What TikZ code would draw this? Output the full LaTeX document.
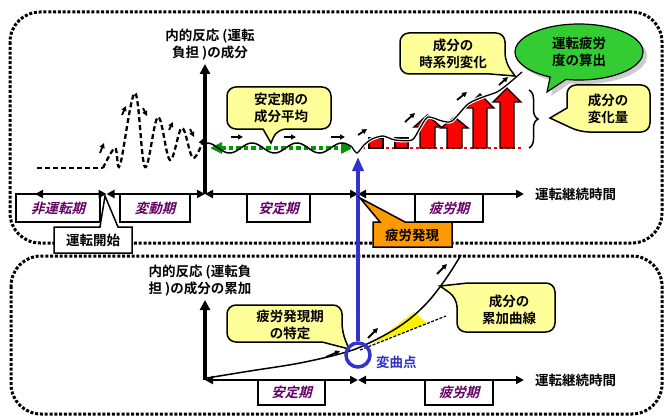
\documentclass[tikz,border=0pt]{standalone}
\usepackage{fontspec}
\newfontfamily\jpb{Noto Sans CJK JP Bold}
\newfontfamily\jpbi{Noto Sans CJK JP Bold}[FakeSlant=0.25]
\usetikzlibrary{arrows.meta,shapes.callouts,shadows,decorations.pathreplacing}
\definecolor{cyell}{RGB}{255,255,153}
\definecolor{cgreen}{RGB}{51,204,51}
\definecolor{dgreen}{RGB}{0,153,0}
\definecolor{cblue}{RGB}{51,51,204}
\definecolor{corange}{RGB}{255,153,0}
\definecolor{cpurple}{RGB}{102,0,102}
\begin{document}
\begin{tikzpicture}[x=1pt,y=-1pt,
  font=\jpb\fontsize{13.5}{17}\selectfont,
  panel/.style={line width=3pt, dash pattern=on 3pt off 1.8pt, rounded corners=30pt},
  pbox/.style={draw, line width=1.5pt, fill=white, minimum height=28pt, inner sep=0pt,
     text=cpurple, font=\jpbi\fontsize{13.5}{16}\selectfont},
  yaxis/.style={line width=3.5pt, -{Triangle[length=10pt,width=10pt]}},
  period/.style={line width=2.5pt, {Triangle[length=8pt,width=8pt]}-{Triangle[length=8pt,width=8pt]}},
  wave/.style={line width=2.3pt, dash pattern=on 5pt off 3pt},
  sarr/.style={line width=1.8pt, -{Triangle[length=5pt,width=5pt]}},
  callout/.style={draw, fill=cyell, line width=1.5pt},
  redarr/.style={draw, fill=red, line width=1.4pt},
  txt/.style={align=center, inner sep=0pt}
]
\useasboundingbox (0,0) rectangle (671,417);
% panels
\draw[panel] (10,12) rectangle (662,243);
\draw[panel] (11,256) rectangle (662,414);

% ---------- top panel ----------
\node[pbox, minimum width=84pt] (b1) at (58,208) {非運転期};
\node[pbox, minimum width=70pt] (b2) at (155,208) {変動期};
\node[pbox, minimum width=63pt] (b3) at (278.5,208) {安定期};
\node[pbox, minimum width=68pt] (b4) at (449,208) {疲労期};

\coordinate (o1) at (205,194);
\coordinate (yt1) at (205,64);
\coordinate (t0) at (35,194);
\coordinate (t1) at (106.5,194);
\coordinate (t3) at (358,194);
\coordinate (t4) at (524,194);
\draw[yaxis] (o1) -- (yt1);
\draw[period] (t0) -- (t1);
\draw[period] (t1) -- (o1);
\draw[period] (o1) -- (t3);
\draw[period] (t3) -- (t4);
\node[anchor=west, inner sep=0pt] (tl1) at (535,194) {運転継続時間};
\node[txt] (yl1) at (210,45) {内的反応 (運転\\負担 )の成分};

% non-operation / fluctuation wave
\draw[wave] (37,168) -- (103,168);
\draw[wave, -{Triangle[length=6pt,width=7pt]}] plot[smooth, tension=0.6] coordinates
  {(103,168) (115,148) (120,165) (135,93) (145,167) (158,117) (170,160) (182,128) (193,158) (204,138)};
\draw[sarr] (100,153) -- (104,143);
\draw[sarr] (122,115) -- (126,106);
\draw[sarr] (143,108) -- (147,116);
\draw[sarr] (169,130) -- (173,122);
\draw[sarr] (190,129) -- (194,137);

% stable period
\coordinate (g1) at (210,148);
\coordinate (g2) at (353,148);
\draw[dgreen, line width=4.5pt, dash pattern=on 4.5pt off 3pt,
  {Triangle[length=12pt,width=11pt]}-{Triangle[length=12pt,width=11pt]}] (g1) -- (g2);
\draw[line width=1.5pt] plot[domain=207:352, samples=90] (\x, {148-5*cos(8*(\x-207))});
\draw[sarr] (231,137) -- (243,137);
\draw[sarr] (284,137) -- (296,137);
\draw[sarr] (331,137) -- (345,137);

% fatigue period
\draw[red, line width=2.5pt, dash pattern=on 3pt off 3pt] (362,148) -- (522,148);
\draw[redarr] (369,138) rectangle (383,148);
\draw[redarr] (395,138) rectangle (408,148);
\draw[redarr] (420,148) -- (420,127) -- (414,127) -- (427.5,115) -- (441,127) -- (435,127) -- (435,148) -- cycle;
\draw[redarr] (447,148) -- (447,128) -- (441,128) -- (454.5,117) -- (468,128) -- (462,128) -- (462,148) -- cycle;
\draw[redarr] (473,148) -- (473,108) -- (466,108) -- (480,94) -- (494,108) -- (487,108) -- (487,148) -- cycle;
\draw[redarr] (500,148) -- (500,102) -- (493,102) -- (507,88) -- (521,102) -- (514,102) -- (514,148) -- cycle;
\draw[white, line width=3.5pt] plot[smooth, tension=0.45] coordinates
  {(352,147) (357,153) (364,145) (372,139) (383,136) (395,140) (412,140) (420,128) (428,117) (442,121) (452,121) (468,104) (483,97) (497,92) (508,84) (522,72)};
\draw[line width=1.3pt] plot[smooth, tension=0.45] coordinates
  {(352,147) (357,153) (364,145) (372,139) (383,136) (395,140) (412,140) (420,128) (428,117) (442,121) (452,121) (468,104) (483,97) (497,92) (508,84) (522,72)};
\draw[sarr] (358,135) -- (367,129);
\draw[sarr] (405,122) -- (415,113);
\draw[sarr] (457,100) -- (467,92);
\draw[sarr] (499,85) -- (508,77);

% brace
\coordinate (br1) at (529,90);
\coordinate (br2) at (529,148);
\draw[line width=1.5pt, decorate, decoration={brace, amplitude=9pt}] (br1) -- (br2);

% callouts (top)
\draw[callout] (279,87) [rounded corners=9pt] -- (331,87) -- (331,129) -- (277,129) [sharp corners] -- (271,143) -- (263,129) [rounded corners=9pt] -- (227,129) -- (227,87) -- cycle;
\node[txt] (c1) at (281,108) {安定期の\\成分平均};

\draw[callout] (452,33) [rounded corners=9pt] -- (505,33) -- (505,62) [sharp corners] -- (515,76) -- (490,74) [rounded corners=9pt] -- (400,74) -- (400,33) -- cycle;
\node[txt] (c2) at (453,54) {成分の\\時系列変化};

\draw[callout] (610,85) [rounded corners=9pt] -- (650,85) -- (650,132) -- (580,132) [sharp corners] -- (550,118) -- (567,108) [rounded corners=9pt] -- (567,85) -- cycle;
\node[txt] (c3) at (608,109) {成分の\\変化量};

\node[ellipse callout, draw, fill=cgreen, line width=1.2pt, minimum width=128pt, minimum height=56pt,
  callout absolute pointer={(547,92)}, drop shadow={shadow xshift=4pt, shadow yshift=-4pt, fill=gray!80},
  align=center, inner sep=0pt] (fat) at (579,52) {運転疲労\\度の算出};

% boxes on the border
\draw[fill=white, line width=1.5pt] (54,227) -- (100,227) -- (105,196) -- (118,227) -- (132,227) -- (132,253) -- (54,253) -- cycle;
\node[inner sep=0pt] (start) at (93,240) {運転開始};

% ---------- bottom panel ----------
\node[pbox, minimum width=67pt, minimum height=25pt] (b5) at (291.5,392.5) {安定期};
\node[pbox, minimum width=68pt, minimum height=25pt] (b6) at (459,392.5) {疲労期};
\coordinate (o2) at (205,380);
\coordinate (yt2) at (205,300);
\coordinate (s3) at (358,380);
\coordinate (s4) at (524,380);
\draw[yaxis] (o2) -- (yt2);
\draw[period] (o2) -- (s3);
\draw[period] (s3) -- (s4);
\node[anchor=west, inner sep=0pt] (tl2) at (535,380) {運転継続時間};
\node[txt] (yl2) at (200,281) {内的反応 (運転負\\担 )の成分の累加};

\fill[yellow] (372,344) -- (414,312) -- (427,323) -- cycle;
\draw[line width=1.2pt, dash pattern=on 3pt off 1.5pt] (360,350) -- (446,316);
\draw[line width=1.5pt] plot[smooth, tension=0.6] coordinates
  {(207,378) (250,371) (300,363) (343,353) (367,344) (400,326) (425,305) (445,280) (461,255)};
\draw[sarr] (326,357) -- (340,351);
\draw[sarr] (368,338) -- (378,328);
\draw[sarr] (437,274) -- (447,264);

\draw[callout] (280,305) [rounded corners=9pt] -- (342,305) -- (342,332) [sharp corners] -- (349,349) -- (322,342) [rounded corners=9pt] -- (227,342) -- (227,305) -- cycle;
\node[txt] (c4) at (290,325) {疲労発現期\\の特定};

\draw[callout] (505,283) [rounded corners=9pt] -- (555,283) -- (555,332) -- (457,332) -- (457,298) [sharp corners] -- (440,286) -- (468,283) [rounded corners=9pt] -- cycle;
\node[txt] (c5) at (509,310) {成分の\\累加曲線};

% inflection point and blue arrow
\node[circle, draw=cblue, line width=3.5pt, minimum size=24pt, inner sep=0pt] (ip) at (358,355) {};
\node[anchor=west, inner sep=0pt, text=cblue] (ipl) at (376,362) {変曲点};
\coordinate (bt) at (358,157);
\draw[cblue, line width=4pt, -{Triangle[length=14pt,width=11pt]}] (ip.north) -- (bt);

% fatigue onset box
\draw[fill=corange, line width=1.5pt] (373,222) -- (380,222) -- (360,198) -- (405,222) -- (452,222) -- (452,247) -- (373,247) -- cycle;
\node[inner sep=0pt] (onset) at (412,235) {疲労発現};
\end{tikzpicture}
\end{document}
